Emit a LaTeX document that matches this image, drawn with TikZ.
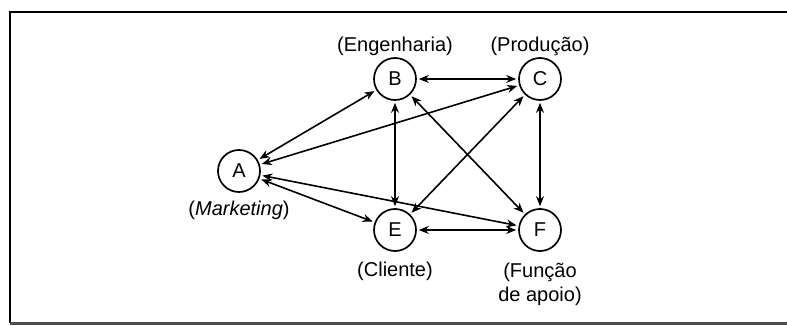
\documentclass[tikz,border=0pt]{standalone}
\usepackage{fontspec}
\setmainfont{Liberation Sans}
\usetikzlibrary{arrows.meta}
\begin{document}
\begin{tikzpicture}[x=1pt,y=-1pt,
  fn/.style={circle,draw,line width=1.7pt,minimum size=42pt,inner sep=0pt,
    font=\fontsize{20}{20}\selectfont},
  lbl/.style={font=\fontsize{20}{24}\selectfont,align=center,inner sep=0pt},
  link/.style={{Stealth[length=10pt,width=8pt]}-{Stealth[length=10pt,width=8pt]},
    line width=1.6pt,shorten <=2pt,shorten >=2pt}]
\useasboundingbox (0,0) rectangle (787,326);

% frame
\coordinate (fbl) at (10,323);
\coordinate (ftl) at (10,12);
\coordinate (ftr) at (787,12);
\coordinate (fbr) at (787,323);
\draw[line width=2.4pt] (fbl) -- (ftl) -- (ftr);
\draw[line width=3pt,black!70] (fbl) -- (fbr);

% functions
\node[fn] (A) at (239,171) {A};
\node[fn] (B) at (395,79) {B};
\node[fn] (C) at (540,79) {C};
\node[fn] (E) at (395,230) {E};
\node[fn] (F) at (540,230) {F};

% labels
\node[lbl] (lB) at (395,46) {(Engenharia)};
\node[lbl] (lC) at (540,46) {(Produção)};
\node[lbl] (lA) at (239,210) {(\textit{Marketing})};
\node[lbl] (lE) at (395,271) {(Cliente)};
\node[lbl] (lF) at (540,284) {(Função\\de apoio)};

% reciprocal links
\draw[link] (A) -- (B);
\draw[link] (A) -- (C);
\draw[link] (A) -- (E);
\draw[link] (A) -- (F);
\draw[link] (B) -- (C);
\draw[link] (B) -- (E);
\draw[link] (B) -- (F);
\draw[link] (C) -- (E);
\draw[link] (C) -- (F);
\draw[link] (E) -- (F);
\end{tikzpicture}
\end{document}
